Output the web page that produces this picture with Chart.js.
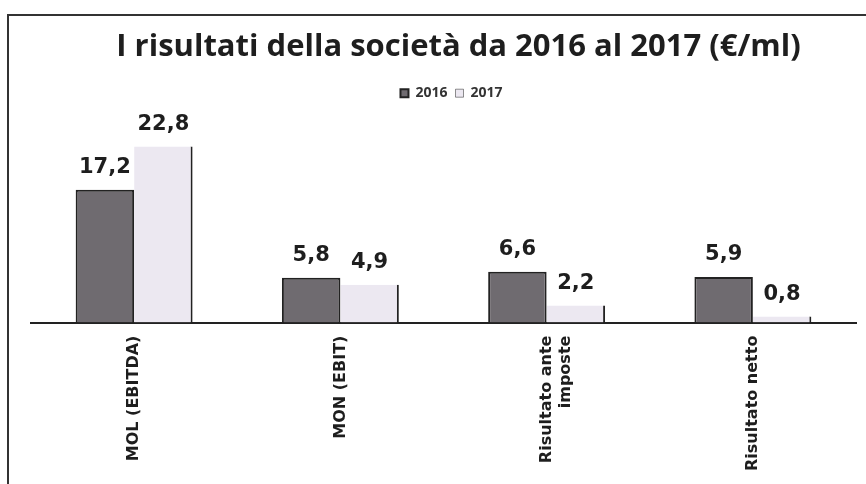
<!DOCTYPE html>
<html><head><meta charset="utf-8">
<script src="https://cdn.jsdelivr.net/npm/chart.js@4"></script>
<style>html,body{margin:0;padding:0;background:#fff;}#w{width:866px;height:484px;position:relative;}</style>
</head><body><div id="w"><canvas id="c" width="866" height="484"></canvas></div>
<script>
const categories = ["MOL (EBITDA)", "MON (EBIT)", ["Risultato ante", "imposte"], "Risultato netto"];
const values2016 = [17.2, 5.8, 6.6, 5.9];
const values2017 = [22.8, 4.9, 2.2, 0.8];
const seriesNames = ["2016", "2017"];

const frame = {
  id: 'frame',
  afterLayout(chart) {
    // shift title and legend slightly right, as in the original
    if (chart.titleBlock) { chart.titleBlock.left += 15; chart.titleBlock.right += 15; }
    if (chart.legend) { chart.legend.left += 8; chart.legend.right += 8; }
  },
  beforeDraw(chart) {
    const ctx = chart.ctx;
    ctx.save();
    ctx.strokeStyle = '#333';
    ctx.lineWidth = 2;
    ctx.beginPath();
    ctx.moveTo(8, 484); ctx.lineTo(8, 15); ctx.lineTo(866, 15);
    ctx.stroke();
    ctx.restore();
  }
};
const valueLabels = {
  id: 'valueLabels',
  afterDatasetsDraw(chart) {
    const ctx = chart.ctx;
    ctx.save();
    ctx.font = 'bold 21px "DejaVu Sans", sans-serif';
    ctx.fillStyle = '#1e1e1e';
    ctx.textAlign = 'center';
    ctx.textBaseline = 'middle';
    chart.data.datasets.forEach((ds, i) => {
      chart.getDatasetMeta(i).data.forEach((bar, j) => {
        ctx.fillText(String(ds.data[j]).replace('.', ','), bar.x, bar.y - 22);
      });
    });
    ctx.restore();
  }
};

new Chart(document.getElementById('c'), {
  type: 'bar',
  data: {
    labels: categories,
    datasets: [
      { label: seriesNames[0], data: values2016, backgroundColor: '#6f6b70', borderColor: '#222', borderWidth: 2, borderSkipped: 'bottom' },
      { label: seriesNames[1], data: values2017, backgroundColor: '#ece8f1', borderColor: '#222', borderWidth: {top:0, left:0, bottom:0, right:2}, borderSkipped: false }
    ]
  },
  options: {
    responsive: false,
    animation: false,
    devicePixelRatio: 1,
    categoryPercentage: 0.567,
    barPercentage: 1.0,
    layout: { padding: { left: 31, right: 10, top: 28, bottom: 0 } },
    plugins: {
      title: { display: true, text: 'I risultati della società da 2016 al 2017 (€/ml)', color: '#1e1e1e',
        font: { family: '"Open Sans", sans-serif', size: 31, weight: 'bold' }, padding: { top: 1, bottom: 12 } },
      legend: { display: true, position: 'top',
        labels: { boxWidth: 8, boxHeight: 8, color: '#333', padding: 8, font: { family: '"Open Sans", sans-serif', size: 14, weight: 'bold' } } },
      tooltip: { enabled: false }
    },
    scales: {
      x: {
        grid: { display: true, drawOnChartArea: false, drawTicks: false },
        border: { display: true, color: '#222', width: 2 },
        ticks: { maxRotation: 90, minRotation: 90, color: '#1e1e1e', padding: 13,
          font: { family: '"DejaVu Sans", sans-serif', size: 16, weight: 'bold' } }
      },
      y: { display: false, min: 0, max: 27.5 }
    }
  },
  plugins: [frame, valueLabels]
});
</script>
</body></html>
